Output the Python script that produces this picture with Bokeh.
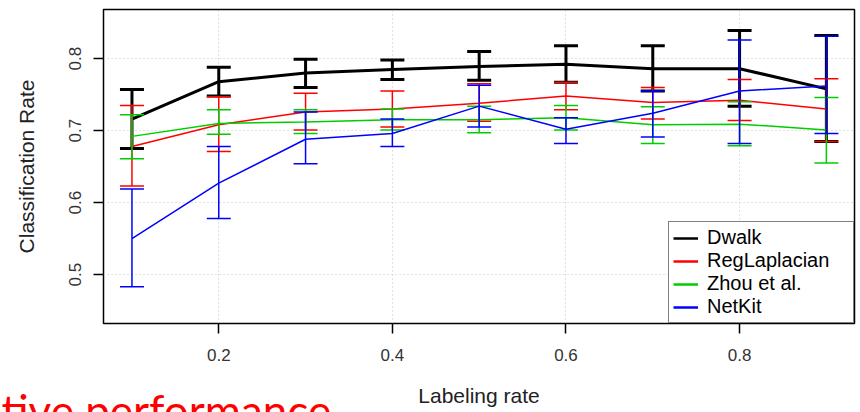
from bokeh.plotting import figure
from bokeh.models import Range1d, FixedTicker, Legend, LegendItem, Title
from bokeh.embed import file_html
from bokeh.resources import INLINE

# ---- data ----
labeling_rate = [0.1, 0.2, 0.3, 0.4, 0.5, 0.6, 0.7, 0.8, 0.9]

dwalk_mean  = [0.716, 0.768, 0.780, 0.785, 0.789, 0.792, 0.786, 0.786, 0.758]
dwalk_upper = [0.757, 0.788, 0.799, 0.798, 0.810, 0.818, 0.818, 0.839, 0.832]
dwalk_lower = [0.675, 0.748, 0.760, 0.771, 0.770, 0.767, 0.755, 0.734, 0.685]

reglap_mean  = [0.678, 0.708, 0.726, 0.730, 0.738, 0.748, 0.739, 0.742, 0.730]
reglap_upper = [0.735, 0.747, 0.752, 0.755, 0.765, 0.767, 0.760, 0.771, 0.772]
reglap_lower = [0.623, 0.671, 0.701, 0.705, 0.713, 0.729, 0.716, 0.714, 0.685]

zhou_mean  = [0.692, 0.710, 0.712, 0.715, 0.715, 0.718, 0.708, 0.709, 0.701]
zhou_upper = [0.722, 0.729, 0.729, 0.730, 0.734, 0.735, 0.733, 0.740, 0.746]
zhou_lower = [0.661, 0.695, 0.696, 0.701, 0.697, 0.701, 0.682, 0.679, 0.655]

netkit_mean  = [0.550, 0.627, 0.688, 0.696, 0.734, 0.702, 0.724, 0.755, 0.762]
netkit_upper = [0.619, 0.678, 0.726, 0.716, 0.763, 0.718, 0.755, 0.826, 0.831]
netkit_lower = [0.483, 0.578, 0.654, 0.678, 0.705, 0.682, 0.691, 0.682, 0.696]

series_names = ["Dwalk", "RegLaplacian", "Zhou et al.", "NetKit"]
x_ticks = [0.2, 0.4, 0.6, 0.8]
x_tick_labels = ["0.2", "0.4", "0.6", "0.8"]
y_ticks = [0.5, 0.6, 0.7, 0.8]
y_tick_labels = ["0.5", "0.6", "0.7", "0.8"]
x_title = "Labeling rate"
y_title = "Classification Rate"
slide_caption = "tive performance"

# ---- figure ----
FONT = "Liberation Sans"
p = figure(width=860, height=412, output_backend="svg", toolbar_location=None,
           x_range=Range1d(0.0672, 0.9324), y_range=Range1d(0.4321, 0.8682),
           min_border_left=103, min_border_right=6, min_border_top=9,
           min_border_bottom=88)
p.background_fill_color = "white"
p.border_fill_color = "white"
p.outline_line_color = "black"
p.outline_line_width = 1.5
p.outline_line_alpha = 1.0

p.xaxis.ticker = FixedTicker(ticks=x_ticks)
p.yaxis.ticker = FixedTicker(ticks=y_ticks)
p.xaxis.major_label_overrides = dict(zip(x_ticks, x_tick_labels))
p.yaxis.major_label_overrides = dict(zip(y_ticks, y_tick_labels))
p.yaxis.major_label_orientation = "vertical"

for ax in p.axis:
    ax.axis_line_color = None
    ax.major_tick_out = 10
    ax.major_tick_in = 0
    ax.major_tick_line_color = "black"
    ax.major_tick_line_width = 1.5
    ax.minor_tick_line_color = None
    ax.major_label_text_font = FONT
    ax.major_label_text_font_size = "17px"
    ax.major_label_text_color = "#333333"
    ax.axis_label_text_font = FONT
    ax.axis_label_text_font_size = "21px"
    ax.axis_label_text_font_style = "normal"
    ax.axis_label_text_color = "#222222"

p.xaxis.major_label_standoff = 15
p.xaxis.axis_label = x_title
p.xaxis.axis_label_standoff = 20
p.yaxis.major_label_standoff = 12
p.yaxis.axis_label = y_title
p.yaxis.axis_label_standoff = 29

p.grid.grid_line_color = "#c4c4c4"
p.grid.grid_line_dash = "1 3"
p.grid.grid_line_width = 1

series = [
    (dwalk_mean, dwalk_lower, dwalk_upper, "black", 3),
    (reglap_mean, reglap_lower, reglap_upper, "#ff0000", 1.5),
    (zhou_mean, zhou_lower, zhou_upper, "#00cd00", 1.5),
    (netkit_mean, netkit_lower, netkit_upper, "#0000ff", 1.5),
]

legend_items = []
for name, (m, lo, up, col, lw) in zip(series_names, series):
    p.line(labeling_rate, m, line_color=col, line_width=lw)
    p.segment(x0=labeling_rate, y0=lo, x1=labeling_rate, y1=up,
              line_color=col, line_width=lw)
    p.scatter(labeling_rate, up, marker="dash", size=24, line_color=col,
              line_width=lw)
    p.scatter(labeling_rate, lo, marker="dash", size=24, line_color=col,
              line_width=lw)
    # single-point line: draws nothing in the plot, only gives the legend key
    proxy = p.line(x=labeling_rate[:1], y=m[:1], line_color=col, line_width=2.5)
    legend_items.append(LegendItem(label=name, renderers=[proxy]))

legend = Legend(items=legend_items, location="bottom_right")
legend.margin = 0
legend.padding = 4
legend.spacing = 0
legend.glyph_width = 25
legend.glyph_height = 18
legend.label_height = 18
legend.label_width = 142
legend.label_standoff = 9
legend.label_text_font = FONT
legend.label_text_font_size = "20px"
legend.label_text_color = "black"
legend.border_line_color = "black"
legend.border_line_width = 1.5
legend.background_fill_color = "white"
legend.background_fill_alpha = 1.0
p.add_layout(legend)

# red slide caption, partly cut by the bottom edge
caption = Title(text=slide_caption, align="left", vertical_align="top",
                offset=-102, standoff=-51, text_font="Lato",
                text_font_size="44px", text_font_style="normal",
                text_color="#ff0000")
p.add_layout(caption, "below")

open("out.html", "w").write(file_html(p, INLINE))
